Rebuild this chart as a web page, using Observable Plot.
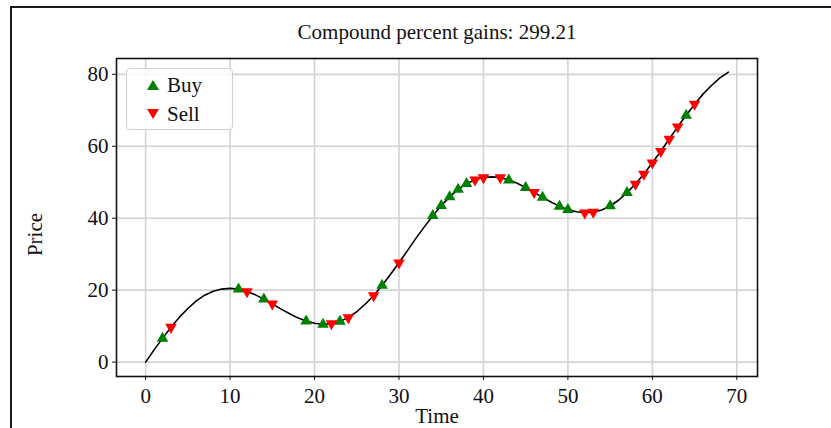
<!DOCTYPE html>
<html>
<head>
<meta charset="utf-8">
<script src="https://cdn.jsdelivr.net/npm/d3@7"></script>
<script src="https://cdn.jsdelivr.net/npm/@observablehq/plot@0.6"></script>
<style>
  body { margin: 0; background: #fff; overflow: hidden; }
  #wrap { position: relative; width: 831px; height: 428px; overflow: hidden; background: #fff; font-family: "Liberation Serif", "Times New Roman", serif; }
  #border { position: absolute; left: 10px; top: 6px; width: 1000px; height: 1000px; border-left: 2px solid #1a1a1a; border-top: 2px solid #1a1a1a; pointer-events: none; }
  #legend { position: absolute; left: 126px; top: 68px; width: 105px; height: 60px; border: 1.5px solid #d0d0d0; border-radius: 4px; background: rgba(255,255,255,0.85); font-size: 21px; color: #111; }
  #legend .row { position: absolute; left: 0; height: 24px; line-height: 24px; }
  #legend svg { position: absolute; left: 20px; top: 5px; }
  #legend span { position: absolute; left: 40px; white-space: nowrap; }
</style>
</head>
<body>
<div id="wrap">
  <div id="chart"></div>
  <div id="border"></div>
  <div id="legend"></div>
</div>
<script>
// ---- data ----
const title = "Compound percent gains: 299.21";
const xLabel = "Time";
const yLabel = "Price";
const time = [0,1,2,3,4,5,6,7,8,9,10,11,12,13,14,15,16,17,18,19,20,21,22,23,24,25,26,27,28,29,30,31,32,33,34,35,36,37,38,39,40,41,42,43,44,45,46,47,48,49,50,51,52,53,54,55,56,57,58,59,60,61,62,63,64,65,66,67,68,69];
const price = [0.0,3.4,6.6,9.7,12.5,14.9,17.0,18.6,19.7,20.3,20.5,20.3,19.6,18.7,17.5,16.2,14.8,13.5,12.3,11.4,10.8,10.5,10.7,11.3,12.4,14.0,16.1,18.5,21.3,24.4,27.6,31.0,34.4,37.6,40.7,43.5,45.9,48.0,49.6,50.7,51.3,51.5,51.3,50.6,49.7,48.5,47.2,45.8,44.5,43.3,42.4,41.8,41.5,41.7,42.3,43.4,45.0,47.1,49.5,52.3,55.4,58.6,62.0,65.4,68.6,71.7,74.5,76.9,79.0,80.6];
const buyTimes = [2,11,14,19,21,23,28,34,35,36,37,38,43,45,47,49,50,55,57,64];
const sellTimes = [3,12,15,22,24,27,30,39,40,42,46,52,53,58,59,60,61,62,63,65];
const xTicks = [0,10,20,30,40,50,60,70];
const yTicks = [0,20,40,60,80];
const legendItems = ["Buy", "Sell"];
const legendColors = ["green", "red"];

// ---- build ----
const series = time.map((t, i) => ({t, p: price[i]}));
const buys = buyTimes.map(t => ({t, p: price[time.indexOf(t)]}));
const sells = sellTimes.map(t => ({t, p: price[time.indexOf(t)]}));

const FS = 21;
const chart = Plot.plot({
  width: 831,
  height: 428,
  marginLeft: 116,
  marginRight: 74,
  marginTop: 58,
  marginBottom: 52,
  style: { fontFamily: "'Liberation Serif', 'Times New Roman', serif", fontSize: FS + "px", color: "#111", background: "transparent", overflow: "visible" },
  x: { domain: [-3.45, 72.45] },
  y: { domain: [-4.0, 84.4] },
  marks: [
    Plot.gridX(xTicks, { stroke: "#d3d3d3", strokeOpacity: 1, strokeWidth: 1.6 }),
    Plot.gridY(yTicks, { stroke: "#d3d3d3", strokeOpacity: 1, strokeWidth: 1.6 }),
    Plot.line(series, { x: "t", y: "p", stroke: "black", strokeWidth: 1.6 }),
    Plot.dot(buys, { x: "t", y: "p", symbol: "triangle", r: 4.3, fill: "green", stroke: "none" }),
    Plot.dot(sells, { x: "t", y: "p", symbol: "triangle", rotate: 180, r: 4.3, fill: "red", stroke: "none" }),
    Plot.frame({ stroke: "#111", strokeWidth: 1.6 }),
    Plot.axisX(xTicks, { tickSize: 4, tickPadding: 8, label: null, fontSize: FS }),
    Plot.axisY(yTicks, { tickSize: 4, tickPadding: 4, label: null, fontSize: FS }),
    Plot.text([title], { frameAnchor: "top", lineAnchor: "middle", textAnchor: "middle", dy: -26, fontSize: FS }),
    Plot.text([xLabel], { frameAnchor: "bottom", lineAnchor: "middle", textAnchor: "middle", dy: 40, fontSize: FS }),
    Plot.text([yLabel], { frameAnchor: "left", lineAnchor: "middle", textAnchor: "middle", dx: -81, dy: 17, rotate: -90, fontSize: FS })
  ]
});
document.getElementById("chart").appendChild(chart);

// legend
const legend = document.getElementById("legend");
legendItems.forEach((name, i) => {
  const row = document.createElement("div");
  row.className = "row";
  row.style.top = (4 + i * 29) + "px";
  row.style.width = "100%";
  const pts = i === 0 ? "0,12 6,2 12,12" : "0,2 12,2 6,12";
  row.innerHTML = `<svg width="12" height="14" viewBox="0 0 12 14"><polygon points="${pts}" fill="${legendColors[i]}"/></svg><span>${name}</span>`;
  legend.appendChild(row);
});
</script>
</body>
</html>
